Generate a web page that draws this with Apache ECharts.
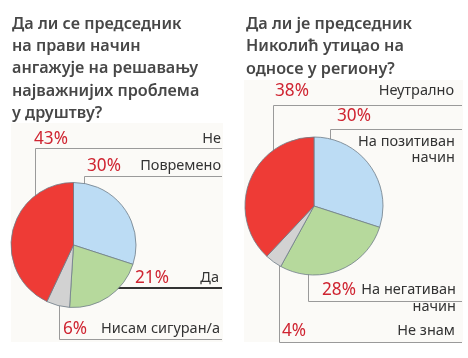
<!DOCTYPE html>
<html>
<head>
<meta charset="utf-8">
<script src="https://cdn.jsdelivr.net/npm/echarts@6/dist/echarts.min.js"></script>
<style>
html,body{margin:0;padding:0;background:#fff;}
#chart{width:468px;height:358px;}
</style>
</head>
<body>
<div id="chart"></div>
<script>
// ---- data ----
const title1 = "Да ли се председник\nна прави начин\nангажује на решавању\nнајважнијих проблема\nу друштву?";
const title2 = "Да ли је председник\nНиколић утицао на\nодносе у региону?";
const cats1 = ["Повремено", "Да", "Нисам сигуран/а", "Не"];
const vals1 = [30, 21, 6, 43];
const cats2 = ["На позитиван\nначин", "На негативан\nначин", "Не знам", "Неутрално"];
const vals2 = [30, 28, 4, 38];

const colors = ["#bcdcf4", "#b6d99c", "#d2d2d2", "#ee3b36"];

// ---- label layout (positions only) ----
const lay1 = [
  {x: 87, y: 166, w: 134, lx: 84.5, ly0: 210, ly: 176.5, lx1: 222},
  {x: 135, y: 278, w: 84, lx: 93, ly0: 288, ly: 288, lx1: 222},
  {x: 63, y: 329, w: 157, lx: 59.5, ly0: 306, ly: 339.5, lx1: 222},
  {x: 34, y: 139, w: 187, lx: 35.5, ly0: 225, ly: 148.5, lx1: 222}
];
const lay2 = [
  {x: 337, y: 100, w: 118, top: true, lx: 330.5, ly0: 163, ly: 129.5, lx1: 462},
  {x: 322, y: 280, w: 134, top: true, lx: 308.5, ly0: 252, ly: 301.5, lx1: 462},
  {x: 282, y: 331, w: 173, lx: 279.5, ly0: 266, ly: 342.5, lx1: 462},
  {x: 275, y: 91, w: 179, lx: 273.5, ly0: 183, ly: 105.5, lx1: 462}
];

function fmtLabel(p) {
  const lines = p.name.split("\n");
  if (p.seriesIndex === 1 && p.dataIndex === 0) {
    return "{p1|" + p.value + "%}\n{n2|" + lines[0] + "}\n{n3|" + lines[1] + "}";
  }
  if (lines.length > 1) {
    return "{p2|" + p.value + "%}{n4|" + lines[0] + "}\n{n5|" + lines[1] + "}";
  }
  return "{p|" + p.value + "%}{n|" + lines[0] + "}";
}

const P = {fontFamily: "Noto Sans", fontSize: 17.2, color: "#cf2431", align: "left"};
const N = {fontFamily: "Noto Sans", fontSize: 14.5, color: "#333333", align: "right"};
const rich = {
  p: Object.assign({lineHeight: 22}, P),
  n: Object.assign({lineHeight: 22}, N),
  p1: Object.assign({lineHeight: 33}, P),
  n2: Object.assign({lineHeight: 17}, N),
  n3: Object.assign({lineHeight: 16}, N),
  p2: Object.assign({lineHeight: 20}, P),
  n4: Object.assign({lineHeight: 20}, N),
  n5: Object.assign({lineHeight: 14}, N)
};

function makeData(cats, vals, lay) {
  return cats.map((c, i) => {
    const dark = (lay === lay1 && i === 1);
    return {
      name: c, value: vals[i],
      itemStyle: {color: colors[i]},
      label: {width: lay[i].w},
      labelLine: {show: true, lineStyle: {color: dark ? "#333333" : "#9a9a9a", width: dark ? 2 : 1}}
    };
  });
}

function layoutFn(lay) {
  return function (params) {
    const L = lay[params.dataIndex];
    return {
      x: L.x, y: L.y,
      align: "left",
      verticalAlign: L.top ? "top" : "middle",
      labelLinePoints: [[L.lx, L.ly0], [L.lx, L.ly], [L.lx1, L.ly]]
    };
  };
}

const pieBase = {
  type: "pie",
  startAngle: 90,
  clockwise: true,
  animation: false,
  silent: true,
  avoidLabelOverlap: false,
  itemStyle: {borderColor: "#6f7c88", borderWidth: 0.8},
  label: {show: true, position: "outside", formatter: fmtLabel, rich: rich},
  labelLine: {show: true, lineStyle: {color: "#9a9a9a", width: 1}}
};

const chart = echarts.init(document.getElementById("chart"), null, {renderer: "canvas"});
chart.setOption({
  animation: false,
  backgroundColor: "#ffffff",
  graphic: [
    {type: "rect", z: -10, shape: {x: 11, y: 123, width: 212, height: 219}, style: {fill: "#fbfaf7"}},
    {type: "rect", z: -10, shape: {x: 244, y: 80, width: 219, height: 262}, style: {fill: "#fbfaf7"}}
  ],
  title: [
    {text: title1, left: 12, top: 13, padding: 0,
     textStyle: {fontFamily: "Noto Sans", fontWeight: 600, fontSize: 16.2, lineHeight: 22.3, color: "#474747"}},
    {text: title2, left: 246, top: 13, padding: 0,
     textStyle: {fontFamily: "Noto Sans", fontWeight: 600, fontSize: 16.2, lineHeight: 22.4, color: "#474747"}}
  ],
  series: [
    Object.assign({}, pieBase, {
      center: [73.5, 245], radius: 62.5,
      data: makeData(cats1, vals1, lay1),
      labelLayout: layoutFn(lay1)
    }),
    Object.assign({}, pieBase, {
      center: [314, 206], radius: 69,
      data: makeData(cats2, vals2, lay2),
      labelLayout: layoutFn(lay2)
    })
  ]
});
</script>
</body>
</html>
